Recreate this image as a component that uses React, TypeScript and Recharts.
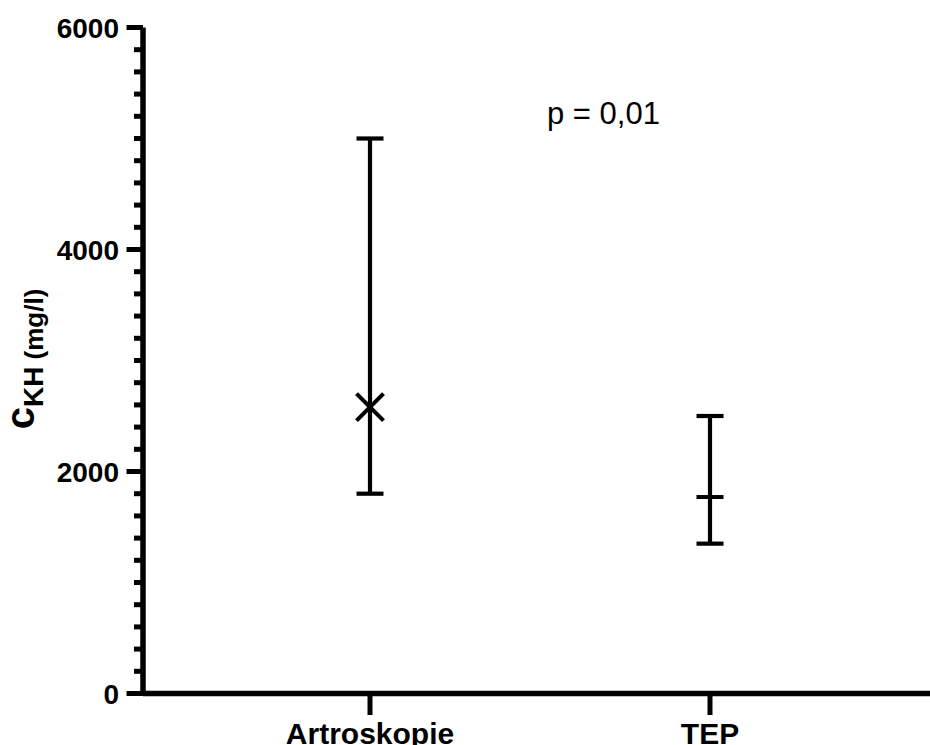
import React from 'react';
import { ComposedChart, XAxis, YAxis, Scatter, ErrorBar } from 'recharts';

const categories = ['Artroskopie', 'TEP'];
const centers = [2580, 1770];
const lows = [1800, 1350];
const highs = [5000, 2500];
const majorTicks = [0, 2000, 4000, 6000];
const yTicks = [
  0, 200, 400, 600, 800, 1000, 1200, 1400, 1600, 1800, 2000, 2200, 2400, 2600, 2800, 3000,
  3200, 3400, 3600, 3800, 4000, 4200, 4400, 4600, 4800, 5000, 5200, 5400, 5600, 5800, 6000,
];
const markerKinds: Record<string, string> = { Artroskopie: 'cross', TEP: 'line' };
const yLabelMain = 'c';
const yLabelSub = 'KH';
const yLabelUnit = ' (mg/l)';
const pText = 'p = 0,01';

const data = categories.map((name, i) => ({ name, mid: centers[i], low: lows[i], high: highs[i] }));

const FONT = "'Liberation Sans', Arial, Helvetica, sans-serif";

const YTick = (props: any) => {
  const { x, y, payload } = props;
  const isMajor = majorTicks.includes(payload.value);
  const len = isMajor ? 16.5 : 9;
  return (
    <g>
      <line x1={x - len} y1={y} x2={x} y2={y} stroke="#000" strokeWidth={5} />
      {isMajor && (
        <text x={x - 24} y={y + 10} textAnchor="end" fontFamily={FONT} fontWeight="bold" fontSize={28} fill="#000">
          {payload.value}
        </text>
      )}
    </g>
  );
};

const XTick = (props: any) => {
  const { x, y, payload } = props;
  return (
    <g>
      <line x1={x} y1={y} x2={x} y2={y + 21.5} stroke="#000" strokeWidth={5} />
      <text x={x} y={y + 50} textAnchor="middle" fontFamily={FONT} fontWeight="bold" fontSize={30} fill="#000">
        {payload.value}
      </text>
    </g>
  );
};

const MarkerShape = (props: any) => {
  const { cx, cy, payload } = props;
  if (markerKinds[payload.name] === 'cross') {
    const r = 13.5;
    return (
      <g>
        <line x1={cx - r} y1={cy - r} x2={cx + r} y2={cy + r} stroke="#000" strokeWidth={4} />
        <line x1={cx - r} y1={cy + r} x2={cx + r} y2={cy - r} stroke="#000" strokeWidth={4} />
      </g>
    );
  }
  return <line x1={cx - 13.5} y1={cy} x2={cx + 13.5} y2={cy} stroke="#000" strokeWidth={4} />;
};

export default function App() {
  return (
    <div style={{ position: 'absolute', left: 0, top: 0, width: 930, height: 745, background: '#fff' }}>
      <ComposedChart width={930} height={745} data={data} margin={{ top: 27.5, right: 0, bottom: 0, left: 0 }}>
        <XAxis
          dataKey="name"
          type="category"
          height={51.5}
          padding={{ left: 227, right: 220 }}
          axisLine={{ stroke: '#000', strokeWidth: 5.5 }}
          tickLine={false}
          tickSize={0}
          tickMargin={0}
          interval={0}
          tick={<XTick />}
        />
        <YAxis
          type="number"
          domain={[0, 6000]}
          ticks={yTicks}
          interval={0}
          width={143}
          axisLine={{ stroke: '#000', strokeWidth: 5.5 }}
          tickLine={false}
          tickSize={0}
          tickMargin={0}
          tick={<YTick />}
        />
        <Scatter dataKey="mid" isAnimationActive={false} shape={<MarkerShape />}>
          <ErrorBar
            dataKey={(d: any) => [d.mid - d.low, d.high - d.mid]}
            direction="y"
            width={13.5}
            stroke="#000"
            strokeWidth={4.2}
            isAnimationActive={false}
          />
        </Scatter>
        <text x={547} y={123.5} fontFamily={FONT} fontSize={31} fill="#000">
          {pText}
        </text>
        <text transform="translate(34,359) rotate(-90)" textAnchor="middle" fontFamily={FONT} fontWeight="bold" fill="#000">
          <tspan fontSize={40}>{yLabelMain}</tspan>
          <tspan fontSize={28} dy={9}>{yLabelSub}</tspan>
          <tspan fontSize={26}>{yLabelUnit}</tspan>
        </text>
      </ComposedChart>
    </div>
  );
}
